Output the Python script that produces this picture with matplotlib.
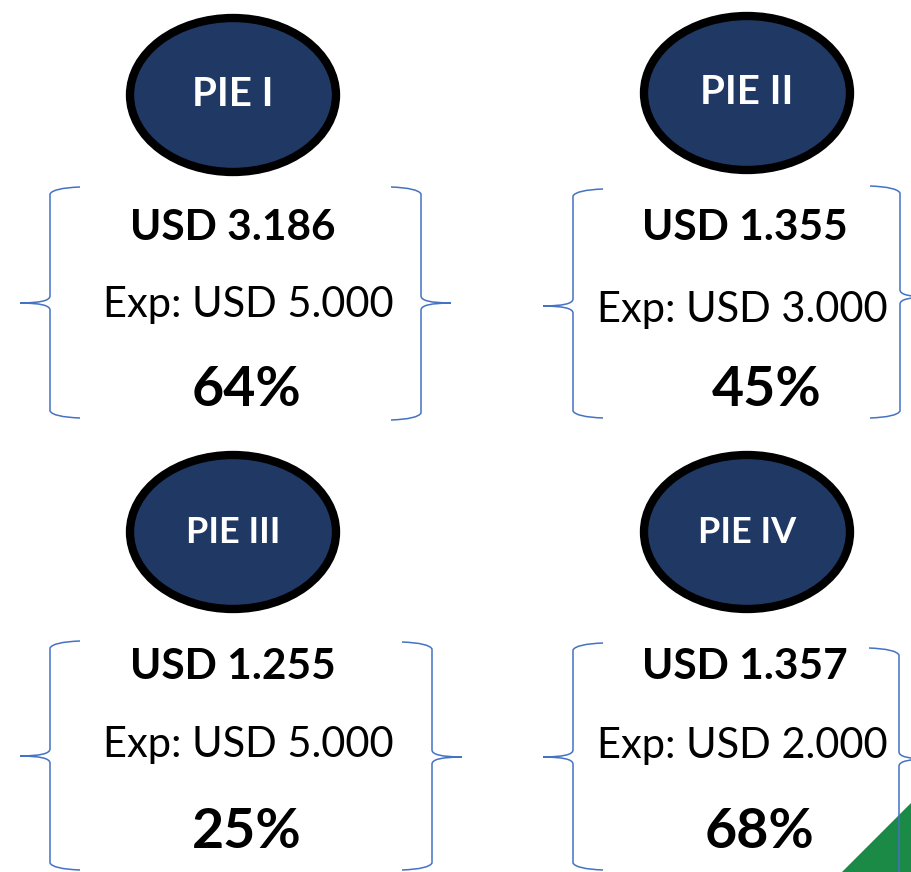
import matplotlib
matplotlib.use("Agg")
import matplotlib.pyplot as plt
from matplotlib.patches import Ellipse, Polygon, PathPatch
from matplotlib.path import Path

# values shown on the four cards
labels = ["PIE I", "PIE II", "PIE III", "PIE IV"]
actual = [3.186, 1.355, 1.255, 1.357]
expected = [5000, 3000, 5000, 2000]
percent = [64, 45, 25, 68]

NAVY = "#203864"
BLUE = "#4472C4"
FONT = "Lato"

# card layout in pixel coordinates (x, y of the ellipse centre, text anchors)
ellipse_xy = [(233, 95), (747, 93), (233, 532), (747, 532)]
label_size = [29, 29, 26, 26]
usd_xy = [(233, 228), (745, 228), (233, 667), (745, 667)]
exp_xy = [(248, 305), (742, 310), (248, 745), (742, 746)]
pct_xy = [(247, 390), (767, 390), (247, 832), (760, 832)]
# braces: x of the stem, top, bottom, tip y, direction of the tip
braces = [
    (50, 187, 418, 303, -1), (421, 187, 420, 303, 1),
    (573, 189, 418, 306, -1), (900, 186, 418, 297, 1),
    (50, 641, 870, 756, -1), (432, 642, 870, 757, 1),
    (573, 643, 870, 757, -1), (899, 648, 880, 759, 1),
]


def brace(ax, x, top, bottom, mid, side, arm=30, spike=30, r=7):
    a = -side
    verts = [
        (x + a * arm, top), (x + a * 3, top + 1), (x, top + r),
        (x, mid - r), (x, mid), (x + side * spike, mid),
        (x, mid), (x, mid + r),
        (x, bottom - r), (x + a * 3, bottom - 1), (x + a * arm, bottom),
    ]
    codes = [Path.MOVETO, Path.CURVE3, Path.CURVE3,
             Path.LINETO, Path.CURVE3, Path.CURVE3,
             Path.CURVE3, Path.CURVE3,
             Path.LINETO, Path.CURVE3, Path.CURVE3]
    ax.add_patch(PathPatch(Path(verts, codes), fill=False, edgecolor=BLUE,
                           lw=1.1, zorder=3))


fig = plt.figure(figsize=(9.12, 8.72), dpi=100)
ax = fig.add_axes([0, 0, 1, 1])
ax.set_xlim(0, 912)
ax.set_ylim(872, 0)
ax.axis("off")

# green corner in the bottom right
ax.add_patch(Polygon([(842, 872), (912, 802), (912, 872)],
                     closed=True, color="#1b8a47", lw=0, zorder=1))

for b in braces:
    brace(ax, *b)

for i in range(4):
    ax.add_patch(Ellipse(ellipse_xy[i], 206, 154, facecolor=NAVY,
                         edgecolor="black", lw=6, zorder=2))
    ax.text(*ellipse_xy[i], labels[i], color="white", fontsize=label_size[i],
            fontweight="bold", family=FONT, ha="center", va="center", zorder=4)
    ax.text(*usd_xy[i], "USD {:.3f}".format(actual[i]), fontsize=30.5,
            fontweight="bold", family=FONT, ha="center", va="center")
    exp = "{:,}".format(expected[i]).replace(",", ".")
    ax.text(*exp_xy[i], "Exp: USD " + exp, fontsize=30, family=FONT,
            ha="center", va="center")
    ax.text(*pct_xy[i], "{}%".format(percent[i]), fontsize=40,
            fontweight="bold", family=FONT, ha="center", va="center")

fig.savefig("out.png", dpi=100)
